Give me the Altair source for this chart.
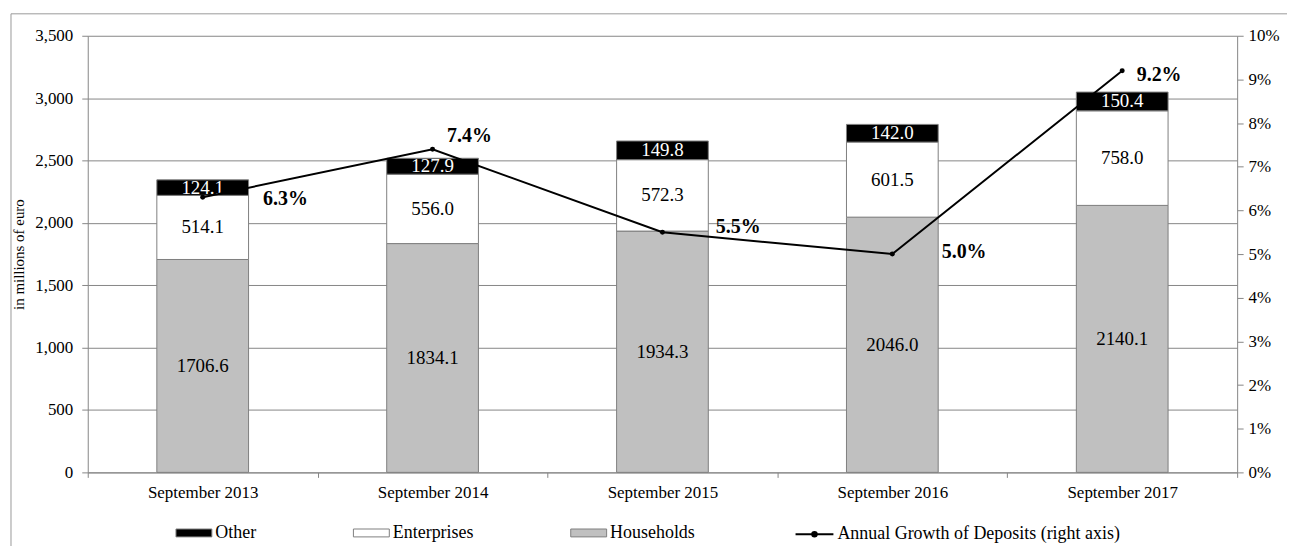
import altair as alt
import pandas as pd

# ---- data ----
dates = ["September 2013", "September 2014", "September 2015", "September 2016", "September 2017"]
households = [1706.6, 1834.1, 1934.3, 2046.0, 2140.1]
enterprises = [514.1, 556.0, 572.3, 601.5, 758.0]
other = [124.1, 127.9, 149.8, 142.0, 150.4]
growth_pct = [6.3, 7.4, 5.5, 5.0, 9.2]
sectors = ["Other", "Enterprises", "Households"]
left_ticks = [0, 500, 1000, 1500, 2000, 2500, 3000, 3500]
right_ticks = [0, 1, 2, 3, 4, 5, 6, 7, 8, 9, 10]
line_label = "Annual Growth of Deposits (right axis)"

# ---- styles ----
FONT = "Liberation Serif"
GRAY = "#868686"
sector_colors = ["#000000", "#ffffff", "#c0c0c0"]
label_colors = ["#ffffff", "#000000", "#000000"]
pct_offsets = {  # (dx, dy) of the bold growth labels
    "September 2013": (83, 2),
    "September 2014": (37, -13),
    "September 2015": (76, -5),
    "September 2016": (72, -2),
    "September 2017": (37, 4),
}

rows = []
series_vals = {"Households": households, "Enterprises": enterprises, "Other": other}
stack_order = {"Households": 0, "Enterprises": 1, "Other": 2}
for i, d in enumerate(dates):
    for s in ["Households", "Enterprises", "Other"]:
        rows.append({"date": d, "sector": s, "value": series_vals[s][i], "order": stack_order[s]})
bars_df = pd.DataFrame(rows)
line_df = pd.DataFrame({
    "date": dates,
    "growth": [g / 100 for g in growth_pct],
    "series": [line_label] * len(dates),
})

x_axis = alt.Axis(title=None, labelAngle=0, tickBand="extent", tickSize=5,
                  labelPadding=7, labelFontSize=17, grid=False)
x_enc = alt.X("date:N", sort=dates, scale=alt.Scale(paddingInner=0, paddingOuter=0), axis=x_axis)

left_axis = alt.Axis(values=left_ticks, format=",.0f", title="in millions of euro",
                     titleFontSize=15, titlePadding=8, tickSize=6, labelPadding=9,
                     labelFontSize=17, grid=True)
left_scale = alt.Scale(domain=[0, 3500], nice=False)

right_axis = alt.Axis(orient="right", format=".0%", values=[t / 100 for t in right_ticks],
                      title=None, grid=False, tickSize=6, labelPadding=5, labelFontSize=17)
right_scale = alt.Scale(domain=[0, 0.1], nice=False)

rect_path = "M-1,-0.22H1V0.22H-1Z"
line_path = "M-1,0H1M-0.12,0A0.12,0.12 0 1,0 0.12,0A0.12,0.12 0 1,0 -0.12,0Z"

# decorative outer frame of the chart (not data)
frame = alt.Chart(pd.DataFrame({"f": [0]})).mark_rect(
    fill=None, stroke="#9a9a9a", strokeWidth=1
).encode(
    x=alt.value(-77), x2=alt.value(1300), y=alt.value(-22), y2=alt.value(600)
)

bars = alt.Chart(bars_df).mark_bar(size=92, stroke="#808080", strokeWidth=1).encode(
    x=x_enc,
    y=alt.Y("value:Q", stack="zero", scale=left_scale, axis=left_axis),
    fill=alt.Fill("sector:N", scale=alt.Scale(domain=sectors, range=sector_colors),
                  legend=alt.Legend(title=None, orient="none", legendX=88, legendY=480,
                                    direction="horizontal", symbolType=rect_path,
                                    symbolSize=1296, symbolStrokeColor="#808080",
                                    symbolStrokeWidth=1, labelFontSize=18,
                                    columnPadding=95, labelOffset=3)),
    order=alt.Order("order:Q"),
)

bar_labels = alt.Chart(bars_df).transform_stack(
    stack="value", groupby=["date"], as_=["y0", "y1"], sort=[alt.SortField("order")]
).transform_calculate(
    mid="(datum.y0 + datum.y1) / 2"
).mark_text(fontSize=19, baseline="middle").encode(
    x=x_enc,
    y=alt.Y("mid:Q", scale=left_scale, axis=left_axis),
    text=alt.Text("value:Q", format=".1f"),
    color=alt.Color("sector:N", scale=alt.Scale(domain=sectors, range=label_colors), legend=None),
)

left = alt.layer(bars, bar_labels)

line = alt.Chart(line_df).mark_line(strokeWidth=2).encode(
    x=x_enc,
    y=alt.Y("growth:Q", scale=right_scale, axis=right_axis),
    stroke=alt.Stroke("series:N", scale=alt.Scale(range=["#000000"]),
                      legend=alt.Legend(title=None, orient="none", legendX=709, legendY=480,
                                        symbolType=line_path, symbolSize=1444,
                                        symbolStrokeWidth=2, symbolFillColor="#000000",
                                        labelFontSize=18, labelOffset=3, labelLimit=500)),
)
points = alt.Chart(line_df).mark_point(filled=True, size=25, color="#000000", opacity=1).encode(
    x=x_enc,
    y=alt.Y("growth:Q", scale=right_scale, axis=right_axis),
)

pct_layers = []
for d in dates:
    dx, dy = pct_offsets[d]
    pct_layers.append(
        alt.Chart(line_df).transform_filter(alt.datum.date == d).mark_text(
            fontSize=20, fontWeight="bold", dx=dx, dy=dy, baseline="middle"
        ).encode(
            x=x_enc,
            y=alt.Y("growth:Q", scale=right_scale, axis=right_axis),
            text=alt.Text("growth:Q", format=".1%"),
        )
    )

right = alt.layer(line, points, *pct_layers)

chart = alt.layer(frame, left, right).resolve_scale(y="independent").properties(
    width=1153, height=438,
    autosize=alt.AutoSizeParams(type="none"),
    padding={"left": 80, "top": 27, "right": 50, "bottom": 73},
).configure(
    font=FONT,
).configure_axis(
    labelFont=FONT, titleFont=FONT, labelColor="#000000", titleColor="#000000",
    titleFontWeight="normal", domainColor=GRAY, tickColor=GRAY, gridColor=GRAY,
).configure_legend(
    labelFont=FONT, labelColor="#000000",
).configure_text(
    font=FONT,
).configure_view(
    stroke=None,
)

chart.save("out.html", embed_options={"renderer": "svg", "actions": False})
